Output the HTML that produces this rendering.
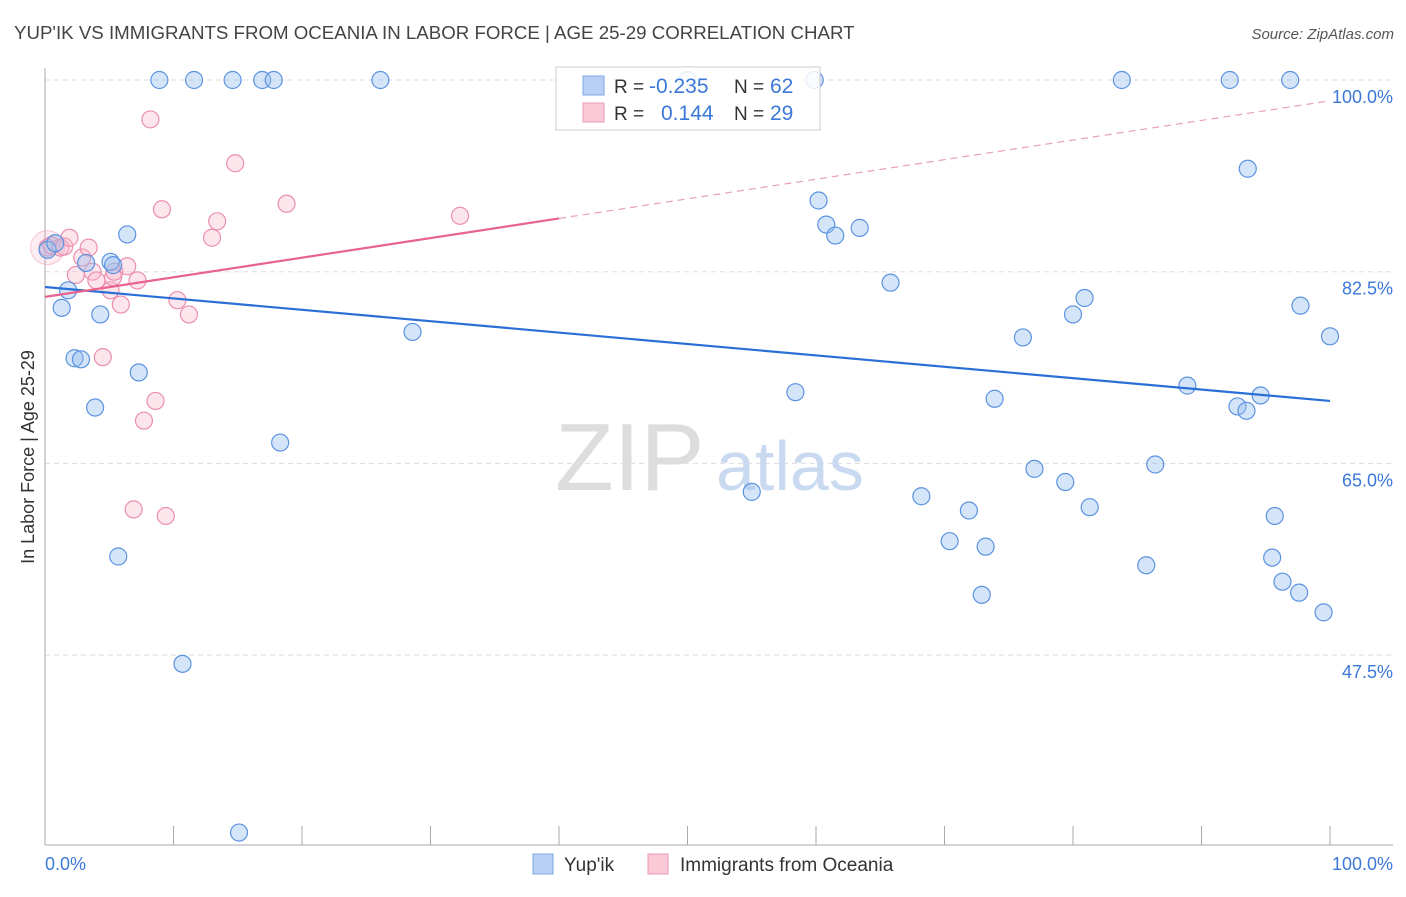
<!DOCTYPE html>
<html><head><meta charset="utf-8"><style>
body{margin:0;background:#fff;font-family:"Liberation Sans",sans-serif}
svg text{font-family:"Liberation Sans",sans-serif}
</style></head><body>
<svg id="chart" width="1406" height="892" viewBox="0 0 1406 892" xmlns="http://www.w3.org/2000/svg">
<text x="14" y="39" font-size="18.7" fill="#444">YUP'IK VS IMMIGRANTS FROM OCEANIA IN LABOR FORCE | AGE 25-29 CORRELATION CHART</text>
<text x="1394" y="39" font-size="15" fill="#555" text-anchor="end" font-style="italic">Source: ZipAtlas.com</text>
<g id="grid"></g>
<text x="555" y="490" font-size="96" fill="#ddd" font-family="Liberation Serif">ZIP</text>
<text x="716" y="490" font-size="70" fill="#c9daf0">atlas</text>
<g id="axes"></g>
<g id="pts"></g>
<g id="trend"></g>
<text transform="translate(34,457) rotate(-90)" font-size="18" fill="#333" text-anchor="middle">In Labor Force | Age 25-29</text>
<text x="45" y="870" font-size="18" fill="#3c78d8">0.0%</text>
<text x="1393" y="870" font-size="18" fill="#3c78d8" text-anchor="end">100.0%</text>
<g>
<rect x="556" y="67" width="264" height="63" fill="rgba(255,255,255,0.85)" stroke="#ccc"/>
<rect x="583" y="76" width="21" height="19" fill="#b8d0f4" stroke="#7ea6e6"/>
<rect x="583" y="103" width="21" height="19" fill="#fac8d6" stroke="#ef9ab4"/>
<text x="614" y="93" font-size="19" fill="#333">R =</text>
<text x="649" y="93" font-size="21" fill="#3c78d8">-0.235</text>
<text x="734" y="93" font-size="19" fill="#333">N =</text>
<text x="770" y="93" font-size="21" fill="#3c78d8">62</text>
<text x="614" y="120" font-size="19" fill="#333">R =</text>
<text x="661" y="120" font-size="21" fill="#3c78d8">0.144</text>
<text x="734" y="120" font-size="19" fill="#333">N =</text>
<text x="770" y="120" font-size="21" fill="#3c78d8">29</text>
</g>
<g>
<rect x="533" y="854" width="20" height="20" fill="#b8d0f4" stroke="#7ea6e6"/>
<text x="564" y="871" font-size="19" fill="#333">Yup'ik</text>
<rect x="648" y="854" width="20" height="20" fill="#fac8d6" stroke="#ef9ab4"/>
<text x="680" y="871" font-size="19" fill="#333">Immigrants from Oceania</text>
</g>
</svg>
<script>
const yTicks=[100,82.5,65,47.5];
const yTickLabels=["100.0%","82.5%","65.0%","47.5%"];
const blueX=[0.2,0.8,1.3,1.8,2.3,2.8,3.2,3.9,4.3,5.1,5.3,6.4,7.3,5.7,8.9,11.6,14.6,16.9,17.8,26.1,10.7,15.1,18.3,28.6,50.0,59.9,60.2,60.8,61.5,63.4,65.8,58.4,55.0,68.2,70.4,71.9,73.2,72.9,73.9,76.1,77.0,79.4,80.0,80.9,81.3,83.8,85.7,86.4,88.9,92.2,93.6,92.8,93.5,94.6,95.7,95.5,96.3,96.9,97.6,97.7,99.5,100];
const blueY=[84.5,85.1,79.2,80.8,74.6,74.5,83.3,70.1,78.6,83.4,83.1,85.9,73.3,56.5,100,100,100,100,100,100,46.7,31.3,66.9,77.0,100,100,89.0,86.8,85.8,86.5,81.5,71.5,62.4,62.0,57.9,60.7,57.4,53.0,70.9,76.5,64.5,63.3,78.6,80.1,61.0,100,55.7,64.9,72.1,100,91.9,70.2,69.8,71.2,60.2,56.4,54.2,100,53.2,79.4,51.4,76.6];
const pinkX=[0.2,0.5,1.2,1.5,1.9,2.4,2.9,3.4,3.7,4.0,5.1,5.3,5.4,5.9,6.4,7.2,4.5,8.2,9.1,7.7,8.6,6.9,9.4,10.3,11.2,13.0,13.4,14.8,18.8,32.3];
const pinkY=[84.7,84.9,84.7,84.8,85.6,82.2,83.8,84.7,82.5,81.7,80.8,82.0,82.5,79.5,83.0,81.7,74.7,96.4,88.2,68.9,70.7,60.8,60.2,79.9,78.6,85.6,87.1,92.4,88.7,87.6];
const blueTrend=[81.1,70.7];
const pinkTrend=[80.2,98.1];
const NS="http://www.w3.org/2000/svg";
const X=v=>45+v*12.85;
const Y=v=>80+(100-v)*10.954;
function mk(tag,attrs,parent){const e=document.createElementNS(NS,tag);for(const k in attrs)e.setAttribute(k,attrs[k]);parent.appendChild(e);return e;}
const grid=document.getElementById('grid'),axes=document.getElementById('axes'),pts=document.getElementById('pts'),tr=document.getElementById('trend');
yTicks.forEach((t,i)=>{
 const l=mk('line',{x1:45,x2:1393,y1:Y(t),y2:Y(t),stroke:'#ddd','stroke-dasharray':'5,4'},grid);
 
 
 const tx=mk('text',{x:1393,y:Y(t)+23,'font-size':18,fill:'#3c78d8','text-anchor':'end'},grid);
 tx.textContent=yTickLabels[i];
 
 
});
const ya=mk('line',{x1:45,x2:45,y1:68,y2:845,stroke:'#aaa'},axes);


const xa=mk('line',{x1:45,x2:1393,y1:845,y2:845,stroke:'#aaa'},axes);


for(let i=0;i<=10;i++){
 const t=mk('line',{x1:X(i*10),x2:X(i*10),y1:826,y2:845,stroke:'#aaa'},axes);
 
 
}
const big=mk('circle',{cx:X(0.2),cy:Y(84.7),r:17,fill:'rgba(244,160,186,0.2)',stroke:'rgba(236,130,162,0.4)'},pts);


pinkX.forEach((x,i)=>{
 const c=mk('circle',{cx:X(x),cy:Y(pinkY[i]),r:8.5,fill:'rgba(248,180,200,0.35)',stroke:'#eb8fae','stroke-width':1.2},pts);
 
 
});
blueX.forEach((x,i)=>{
 const c=mk('circle',{cx:X(x),cy:Y(blueY[i]),r:8.5,fill:'rgba(150,190,240,0.4)',stroke:'#5b93e0','stroke-width':1.2},pts);
 
 
});
const bl=mk('line',{x1:X(0),y1:Y(blueTrend[0]),x2:X(100),y2:Y(blueTrend[1]),stroke:'#2a6fd6','stroke-width':2.2},tr);


const pAt=v=>pinkTrend[0]+(pinkTrend[1]-pinkTrend[0])*v/100;
const pl=mk('line',{x1:X(0),y1:Y(pAt(0)),x2:X(40),y2:Y(pAt(40)),stroke:'#e8638e','stroke-width':2.2},tr);


const pd=mk('line',{x1:X(40),y1:Y(pAt(40)),x2:X(100),y2:Y(pAt(100)),stroke:'#e8a0b8','stroke-width':1.2,'stroke-dasharray':'7,5'},tr);


</script>
</body></html>
